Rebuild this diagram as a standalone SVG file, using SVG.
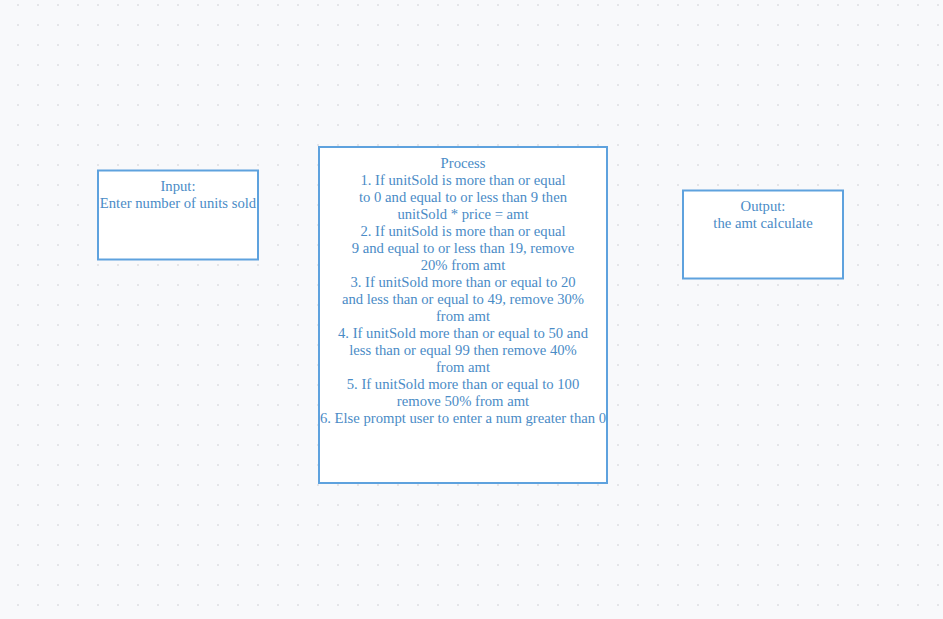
<svg xmlns="http://www.w3.org/2000/svg" width="943" height="619" viewBox="0 0 943 619">
<defs>
<pattern id="dots" x="8" y="-5" width="20" height="20" patternUnits="userSpaceOnUse">
<circle cx="10" cy="10" r="1.1" fill="#dfe0e4"/>
</pattern>
<style>
.box{fill:#ffffff;stroke:#5ea2de;stroke-width:2}
.t{font-family:"Liberation Serif","Times New Roman",serif;font-size:14.67px;fill:#4a8bc6;text-anchor:middle}
</style>
</defs>
<rect x="0" y="0" width="943" height="619" fill="#f8f9fb"/>
<rect x="0" y="0" width="943" height="619" fill="url(#dots)"/>
<g id="connectors"></g>
<g id="input">
<rect class="box" x="98" y="170.5" width="160" height="89"/>
<text class="t" x="178" y="191">Input:</text>
<text class="t" x="178" y="208">Enter number of units sold</text>
</g>
<g id="process">
<rect class="box" x="319" y="147" width="288" height="336"/>
<text class="t" x="463" y="168">Process</text>
<text class="t" x="463" y="185">1. If unitSold is more than or equal</text>
<text class="t" x="463" y="202">to 0 and equal to or less than 9 then</text>
<text class="t" x="463" y="219">unitSold * price = amt</text>
<text class="t" x="463" y="236">2. If unitSold is more than or equal</text>
<text class="t" x="463" y="253">9 and equal to or less than 19, remove</text>
<text class="t" x="463" y="270">20% from amt</text>
<text class="t" x="463" y="287">3. If unitSold more than or equal to 20</text>
<text class="t" x="463" y="304">and less than or equal to 49, remove 30%</text>
<text class="t" x="463" y="321">from amt</text>
<text class="t" x="463" y="338">4. If unitSold more than or equal to 50 and</text>
<text class="t" x="463" y="355">less than or equal 99 then remove 40%</text>
<text class="t" x="463" y="372">from amt</text>
<text class="t" x="463" y="389">5. If unitSold more than or equal to 100</text>
<text class="t" x="463" y="406">remove 50% from amt</text>
<text class="t" x="463" y="423">6. Else prompt user to enter a num greater than 0</text>
</g>
<g id="output">
<rect class="box" x="683" y="190.5" width="160" height="88"/>
<text class="t" x="763" y="211">Output:</text>
<text class="t" x="763" y="228">the amt calculate</text>
</g>
</svg>
